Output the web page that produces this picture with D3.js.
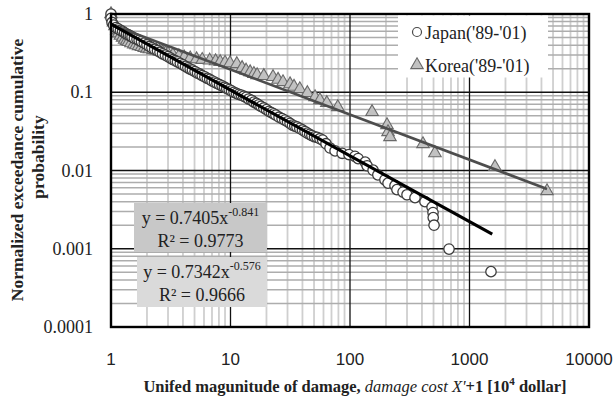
<!DOCTYPE html>
<html><head><meta charset="utf-8">
<script src="https://cdn.jsdelivr.net/npm/d3@7"></script>
<style>body{margin:0;background:#fff}svg{display:block}</style>
</head><body>
<svg id="c" width="614" height="399"></svg>
<script>
// ---- data ----
const xTicks = [1, 10, 100, 1000, 10000];
const xTickLabels = ["1", "10", "100", "1000", "10000"];
const yTicks = [1, 0.1, 0.01, 0.001, 0.0001];
const yTickLabels = ["1", "0.1", "0.01", "0.001", "0.0001"];
const seriesNames = ["Japan('89-'01)", "Korea('89-'01)"];

const japanX = [1, 1, 1.02, 1.05, 1.1, 1.15, 1.2, 1.25, 1.3, 1.35, 1.4, 1.45, 1.5, 1.57, 1.65, 1.72, 1.8, 1.9, 2.0, 2.1, 2.2, 2.32, 2.45, 2.57, 2.7, 2.85, 3.0, 3.15, 3.3, 3.45, 3.6, 3.8, 4.0, 4.2, 4.4, 4.6, 4.8, 5.05, 5.3, 5.55, 5.8, 6.1, 6.4, 6.7, 7.0, 7.35, 7.7, 8.1, 8.5, 8.9, 9.3, 9.75, 10.2, 10.7, 11.2, 11.7, 12.3, 12.9, 13.5, 14.2, 15, 15.7, 16.5, 17.2, 18, 19, 20, 21, 22, 23, 24, 25.5, 27, 28.5, 30, 31.5, 33, 34.5, 36, 38, 40, 42, 44, 46, 48, 50.5, 53, 56, 59, 63, 68, 75, 86, 98, 110, 117, 134, 139, 156, 171, 196, 208, 238, 247, 278, 300, 350, 424, 486, 495, 497, 505, 674, 1513];
const japanY = [1.0, 0.88, 0.78, 0.72, 0.67, 0.645, 0.62, 0.6, 0.575, 0.555, 0.54, 0.525, 0.51, 0.49, 0.475, 0.46, 0.445, 0.425, 0.405, 0.385, 0.37, 0.355, 0.34, 0.325, 0.31, 0.298, 0.285, 0.273, 0.262, 0.253, 0.245, 0.234, 0.224, 0.214, 0.205, 0.198, 0.192, 0.184, 0.176, 0.17, 0.163, 0.157, 0.151, 0.146, 0.140, 0.135, 0.130, 0.125, 0.121, 0.116, 0.112, 0.108, 0.104, 0.1, 0.097, 0.094, 0.092, 0.089, 0.086, 0.082, 0.079, 0.075, 0.072, 0.069, 0.066, 0.063, 0.060, 0.057, 0.055, 0.053, 0.051, 0.048, 0.046, 0.044, 0.042, 0.040, 0.038, 0.037, 0.036, 0.0345, 0.033, 0.0315, 0.030, 0.029, 0.028, 0.027, 0.0265, 0.0255, 0.0245, 0.022, 0.0194, 0.0178, 0.0166, 0.016, 0.0152, 0.0142, 0.0128, 0.0115, 0.0101, 0.0088, 0.0076, 0.0069, 0.0064, 0.0057, 0.0053, 0.0049, 0.0045, 0.0040, 0.0034, 0.0029, 0.0025, 0.0020, 0.00099, 0.00051];

const koreaX = [1, 1.05, 1.08, 1.12, 1.16, 1.2, 1.25, 1.3, 1.35, 1.4, 1.47, 1.55, 1.62, 1.7, 1.8, 1.9, 2.0, 2.1, 2.25, 2.4, 2.55, 2.7, 2.85, 3.0, 3.3, 3.7, 4.1, 4.6, 5.2, 5.8, 6.7, 7.5, 8.2, 9.0, 9.9, 11.3, 12.5, 13.5, 14.6, 15.7, 16.7, 19, 22.7, 25, 27.5, 31.5, 34, 38, 44, 51, 56, 64, 79, 153, 204, 208, 216, 408, 514, 1634, 4453];
const koreaY = [1.0, 0.78, 0.70, 0.62, 0.57, 0.53, 0.50, 0.47, 0.455, 0.44, 0.425, 0.41, 0.40, 0.39, 0.38, 0.37, 0.362, 0.355, 0.347, 0.34, 0.332, 0.325, 0.317, 0.31, 0.30, 0.29, 0.28, 0.272, 0.265, 0.26, 0.255, 0.25, 0.244, 0.24, 0.236, 0.23, 0.205, 0.19, 0.181, 0.172, 0.166, 0.162, 0.157, 0.145, 0.135, 0.127, 0.118, 0.110, 0.098, 0.087, 0.0796, 0.073, 0.0648, 0.056, 0.0381, 0.031, 0.0268, 0.0218, 0.0167, 0.0111, 0.00547];

// power-law trendlines  y = a * x^b
const japanFit = [0.7405, -0.841];
const koreaFit = [0.7342, -0.576];
const japanFitRange = [1, 1550];
const koreaFitRange = [1, 4453];
const japanFitText = ["y = 0.7405x", "-0.841", "R² = 0.9773"];
const koreaFitText = ["y = 0.7342x", "-0.576", "R² = 0.9666"];

// ---- layout ----
const L = 111, R = 589, T = 14, B = 327;
const svg = d3.select("#c");
svg.append("rect").attr("width", 614).attr("height", 399).attr("fill", "#fff");

const x = d3.scaleLog().domain([1, 10000]).range([L, R]);
const y = d3.scaleLog().domain([0.0001, 1]).range([B, T]);

const serif = "'Liberation Serif','Times New Roman',Times,serif";
const sans = "'Liberation Sans',Arial,Helvetica,sans-serif";

// minor grid
const g = svg.append("g");
const minorX = [], minorY = [];
for (let d = 1; d < 10000; d *= 10) for (let k = 2; k <= 9; k++) minorX.push(d * k);
for (let d = 0.0001; d < 0.99; d *= 10) for (let k = 2; k <= 9; k++) minorY.push(d * k);
g.selectAll(".mx").data(minorX).join("line")
  .attr("x1", d => x(d)).attr("x2", d => x(d)).attr("y1", T).attr("y2", B)
  .attr("stroke", "#cfcfcf").attr("stroke-width", 1.8);
g.selectAll(".my").data(minorY).join("line")
  .attr("x1", L).attr("x2", R).attr("y1", d => y(d)).attr("y2", d => y(d))
  .attr("stroke", "#adadad").attr("stroke-width", 1.5);
// major grid
g.selectAll(".Mx").data(xTicks).join("line")
  .attr("x1", d => x(d)).attr("x2", d => x(d)).attr("y1", T).attr("y2", B)
  .attr("stroke", "#111").attr("stroke-width", 1.3);
g.selectAll(".My").data(yTicks).join("line")
  .attr("x1", L).attr("x2", R).attr("y1", d => y(d)).attr("y2", d => y(d))
  .attr("stroke", "#111").attr("stroke-width", 1.3);

// points
const korea = koreaX.map((v, i) => [v, koreaY[i]]);
const japan = japanX.map((v, i) => [v, japanY[i]]);
const tri = d3.symbol().type(d3.symbolTriangle).size(68);
svg.append("g").selectAll("path").data(korea).join("path")
  .attr("d", tri).attr("transform", d => `translate(${x(d[0])},${y(d[1])})`)
  .attr("fill", "#c2c2c2").attr("stroke", "#6a6a6a").attr("stroke-width", 1.1);
svg.append("g").selectAll("circle").data(japan).join("circle")
  .attr("cx", d => x(d[0])).attr("cy", d => y(d[1])).attr("r", 5.2)
  .attr("fill", "#fff").attr("stroke", "#3c3c3c").attr("stroke-width", 1.3);

// trendlines
const line = d3.line().x(d => x(d[0])).y(d => y(d[1]));
function fitPts(fit, range) { return range.map(v => [v, fit[0] * Math.pow(v, fit[1])]); }
svg.append("path").attr("d", line(fitPts(koreaFit, koreaFitRange)))
  .attr("stroke", "#4d4d4d").attr("stroke-width", 2.6).attr("fill", "none");
svg.append("path").attr("d", line(fitPts(japanFit, japanFitRange)))
  .attr("stroke", "#000").attr("stroke-width", 3.2).attr("fill", "none");

// frame
svg.append("rect").attr("x", L).attr("y", T).attr("width", R - L).attr("height", B - T)
  .attr("fill", "none").attr("stroke", "#000").attr("stroke-width", 2.4);

// tick labels
svg.append("g").selectAll("text").data(xTicks).join("text")
  .attr("x", d => x(d)).attr("y", 365).attr("text-anchor", "middle")
  .attr("font-family", sans).attr("font-size", 17).attr("fill", "#222")
  .text((d, i) => xTickLabels[i]);
svg.append("g").selectAll("text").data(yTicks).join("text")
  .attr("x", 93).attr("y", d => y(d) + 6).attr("text-anchor", "end")
  .attr("font-family", serif).attr("font-size", 18).attr("fill", "#222")
  .text((d, i) => yTickLabels[i]);

// annotation boxes
function fitBox(x0, y0, w, h, fill, txt) {
  svg.append("rect").attr("x", x0).attr("y", y0).attr("width", w).attr("height", h).attr("fill", fill);
  const t1 = svg.append("text").attr("x", x0 + w / 2).attr("y", y0 + 21).attr("text-anchor", "middle")
    .attr("font-family", serif).attr("font-size", 18).attr("fill", "#222");
  t1.append("tspan").text(txt[0]);
  t1.append("tspan").attr("dy", -8).attr("font-size", 12).text(txt[1]);
  svg.append("text").attr("x", x0 + w / 2).attr("y", y0 + 44).attr("text-anchor", "middle")
    .attr("font-family", serif).attr("font-size", 18).attr("fill", "#222").text(txt[2]);
}
fitBox(134, 203, 133, 49, "#c8c8c8", japanFitText);
fitBox(137, 257, 130, 50, "#dadada", koreaFitText);

// legend
svg.append("rect").attr("x", 398).attr("y", 15.5).attr("width", 150).attr("height", 62).attr("fill", "#fff");
svg.append("circle").attr("cx", 417).attr("cy", 32).attr("r", 4.5)
  .attr("fill", "#fff").attr("stroke", "#4a4a4a").attr("stroke-width", 1.2);
svg.append("path").attr("d", tri).attr("transform", "translate(417,65)")
  .attr("fill", "#c2c2c2").attr("stroke", "#6a6a6a").attr("stroke-width", 1.1);
svg.append("text").attr("x", 425).attr("y", 39).attr("font-family", serif).attr("font-size", 18)
  .attr("fill", "#222").text(seriesNames[0]);
svg.append("text").attr("x", 425).attr("y", 72).attr("font-family", serif).attr("font-size", 18)
  .attr("fill", "#222").text(seriesNames[1]);

// axis titles
const xt = svg.append("text").attr("x", 355).attr("y", 392).attr("text-anchor", "middle")
  .attr("font-family", serif).attr("font-size", 16.5).attr("font-weight", "bold").attr("fill", "#222");
xt.append("tspan").text("Unifed magunitude of damage, ");
xt.append("tspan").attr("font-style", "italic").attr("font-weight", "normal").text("damage cost X'");
xt.append("tspan").text("+1 [10");
xt.append("tspan").attr("dy", -7).attr("font-size", 11).text("4");
xt.append("tspan").attr("dy", 7).text(" dollar]");

svg.append("text").attr("transform", "translate(23,170) rotate(-90)").attr("text-anchor", "middle")
  .attr("font-family", serif).attr("font-size", 17.5).attr("font-weight", "bold").attr("fill", "#222")
  .text("Normalized exceedance cumulative");
svg.append("text").attr("transform", "translate(44,157) rotate(-90)").attr("text-anchor", "middle")
  .attr("font-family", serif).attr("font-size", 17.5).attr("font-weight", "bold").attr("fill", "#222")
  .text("probability");
</script>
</body></html>
